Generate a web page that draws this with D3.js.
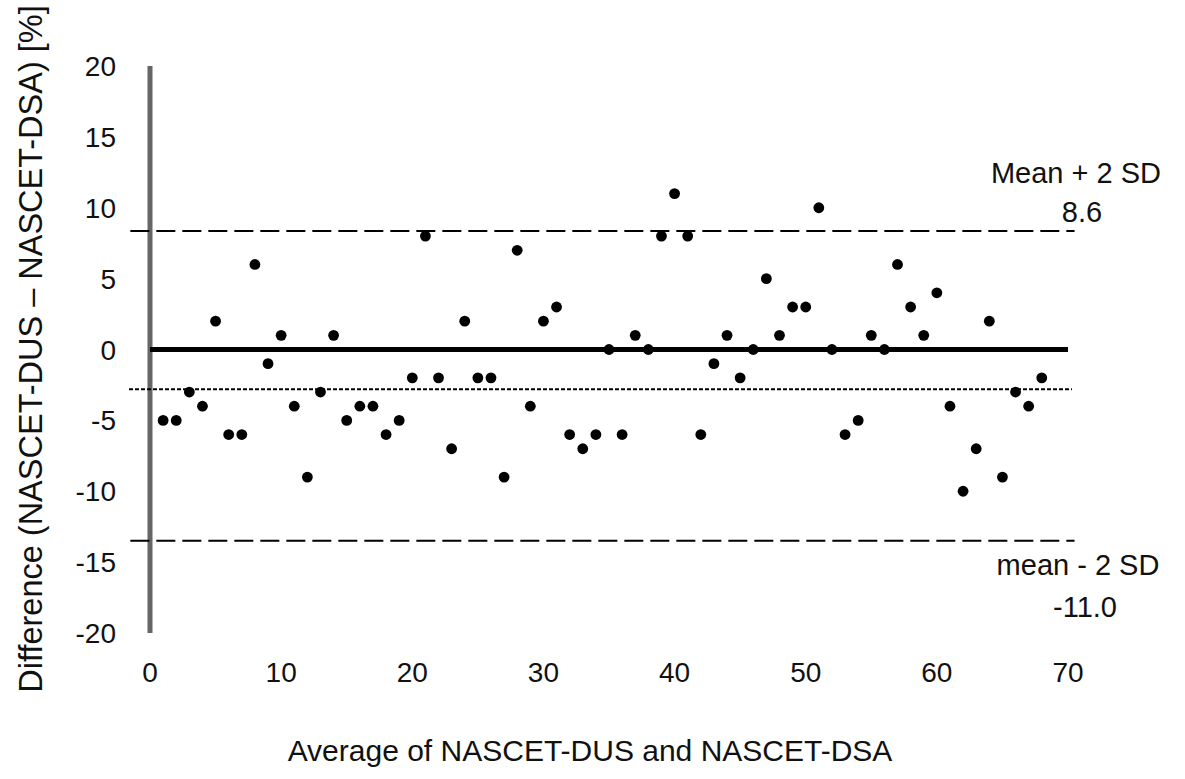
<!DOCTYPE html>
<html>
<head>
<meta charset="utf-8">
<script src="https://cdn.jsdelivr.net/npm/d3@7"></script>
<style>
  html, body { margin: 0; padding: 0; background: #ffffff; }
  svg { display: block; font-family: "Liberation Sans", Arial, sans-serif; }
</style>
</head>
<body>
<svg id="chart" width="1185" height="779"></svg>
<script>
// ---- data ----
const averages = [1,2,3,4,5,6,7,8,9,10,11,12,13,14,15,16,17,18,19,20,
  21,22,23,24,25,26,27,28,29,30,31,32,33,34,35,36,37,38,39,40,
  41,42,43,44,45,46,47,48,49,50,51,52,53,54,55,56,57,58,59,60,
  61,62,63,64,65,66,67,68];
const differences = [-5,-5,-3,-4,2,-6,-6,6,-1,1,-4,-9,-3,1,-5,-4,-4,-6,-5,-2,
  8,-2,-7,2,-2,-2,-9,7,-4,2,3,-6,-7,-6,0,-6,1,0,8,11,
  8,-6,-1,1,-2,0,5,1,3,3,10,0,-6,-5,1,0,6,3,1,4,
  -4,-10,-7,2,-9,-3,-4,-2];
const xTicks = [0,10,20,30,40,50,60,70];
const yTicks = [20,15,10,5,0,-5,-10,-15,-20];
const zeroLine = 0;
const upperLimit = 8.36;   // drawn position of "Mean + 2 SD"
const meanLine = -2.8;     // drawn position of mean difference
const lowerLimit = -13.5;  // drawn position of "mean - 2 SD"
const limitSpan = [-1.5, 70.5];
const upperLabel = ["Mean + 2 SD", "8.6"];
const lowerLabel = ["mean - 2 SD", "-11.0"];
const xTitle = "Average of NASCET-DUS and NASCET-DSA";
const yTitle = "Difference (NASCET-DUS \u2013 NASCET-DSA) [%]";

// ---- layout ----
const svg = d3.select("#chart");
const x = d3.scaleLinear().domain([0, 70]).range([150, 1068]);
const y = d3.scaleLinear().domain([-20, 20]).range([633, 66]);

// y axis line (grey)
svg.append("line")
  .attr("x1", x(0)).attr("x2", x(0))
  .attr("y1", y(20)).attr("y2", y(-20))
  .attr("stroke", "#666666").attr("stroke-width", 5);

// y tick labels
svg.append("g").selectAll("text").data(yTicks).join("text")
  .attr("x", 116).attr("y", d => y(d))
  .attr("dy", "0.36em")
  .attr("text-anchor", "end")
  .attr("font-size", 28).attr("fill", "#111")
  .text(d => d);

// x tick labels
svg.append("g").selectAll("text").data(xTicks).join("text")
  .attr("x", d => x(d)).attr("y", 672)
  .attr("dy", "0.36em")
  .attr("text-anchor", "middle")
  .attr("font-size", 28).attr("fill", "#111")
  .text(d => d);

// limit lines
svg.append("line")
  .attr("x1", x(limitSpan[0])).attr("x2", x(limitSpan[1]))
  .attr("y1", y(upperLimit)).attr("y2", y(upperLimit))
  .attr("stroke", "#000").attr("stroke-width", 2)
  .attr("stroke-dasharray", "19,7");
svg.append("line")
  .attr("x1", x(limitSpan[0])).attr("x2", x(limitSpan[1]))
  .attr("y1", y(lowerLimit)).attr("y2", y(lowerLimit))
  .attr("stroke", "#000").attr("stroke-width", 2)
  .attr("stroke-dasharray", "19,7");
svg.append("line")
  .attr("x1", x(-1.6)).attr("x2", x(70.3))
  .attr("y1", y(meanLine)).attr("y2", y(meanLine))
  .attr("stroke", "#000").attr("stroke-width", 2)
  .attr("stroke-dasharray", "4,2");
// zero line (thick)
svg.append("line")
  .attr("x1", x(0)).attr("x2", x(70))
  .attr("y1", y(zeroLine)).attr("y2", y(zeroLine))
  .attr("stroke", "#000").attr("stroke-width", 5);

// points
svg.append("g").selectAll("circle").data(averages).join("circle")
  .attr("cx", d => x(d))
  .attr("cy", (d, i) => y(differences[i]))
  .attr("r", 5.4)
  .attr("fill", "#000");

// limit labels
svg.append("text").attr("x", 1076).attr("y", 183)
  .attr("text-anchor", "middle").attr("font-size", 29).attr("fill", "#111")
  .text(upperLabel[0]);
svg.append("text").attr("x", 1082).attr("y", 222)
  .attr("text-anchor", "middle").attr("font-size", 29).attr("fill", "#111")
  .text(upperLabel[1]);
svg.append("text").attr("x", 1078).attr("y", 575)
  .attr("text-anchor", "middle").attr("font-size", 29).attr("fill", "#111")
  .text(lowerLabel[0]);
svg.append("text").attr("x", 1085).attr("y", 617)
  .attr("text-anchor", "middle").attr("font-size", 29).attr("fill", "#111")
  .text(lowerLabel[1]);

// axis titles
svg.append("text").attr("x", 590).attr("y", 750)
  .attr("dy", "0.36em")
  .attr("text-anchor", "middle").attr("font-size", 30).attr("fill", "#111")
  .text(xTitle);
svg.append("text")
  .attr("transform", "translate(30,349) rotate(-90)")
  .attr("dy", "0.36em")
  .attr("text-anchor", "middle").attr("font-size", 32.5).attr("fill", "#111")
  .text(yTitle);
</script>
</body>
</html>
